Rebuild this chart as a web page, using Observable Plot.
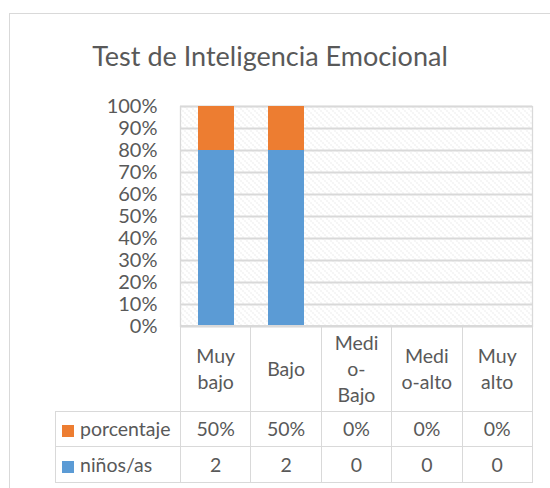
<!DOCTYPE html>
<html>
<head>
<meta charset="utf-8">
<script src="https://cdn.jsdelivr.net/npm/d3@7"></script>
<script src="https://cdn.jsdelivr.net/npm/@observablehq/plot@0.6"></script>
<style>
  html, body { margin: 0; padding: 0; background: #fff; }
  body { width: 550px; height: 488px; position: relative; overflow: hidden; font-family: Lato, "Open Sans", sans-serif; color: #595959; }
  #frame { position: absolute; left: 9px; top: 13px; width: 600px; height: 520px; border: 1.3px solid #d9d9d9; box-sizing: border-box; }
  #title { position: absolute; left: 0; width: 540px; top: 37px; text-align: center; font-size: 27px; line-height: 38px; color: #595959; }
  #chart { position: absolute; left: 0; top: 0; }
  #table { position: absolute; left: 55px; top: 325px; border-collapse: collapse; table-layout: fixed; font-size: 19.5px; color: #595959; }
  #table td { border: 1.5px solid #d9d9d9; text-align: center; vertical-align: middle; padding: 0; line-height: 26px; }
  #table td.corner { border-left: none; border-top: none; }
  #table td.leg { text-align: left; padding-left: 6px; white-space: nowrap; }
  .sw { display: inline-block; width: 12px; height: 12px; margin-right: 6px; vertical-align: -1px; }
</style>
</head>
<body>
<div id="frame"></div>
<div id="title">Test de Inteligencia Emocional</div>
<div id="chart"></div>
<table id="table"></table>
<script>
// ---- data ----
const categories = ["Muy bajo", "Bajo", "Medio-Bajo", "Medio-alto", "Muy alto"];
const categoryLabels = ["Muy\nbajo", "Bajo", "Medi\no-\nBajo", "Medi\no-alto", "Muy\nalto"];
const seriesNames = ["niños/as", "porcentaje"];
const seriesColors = ["#5b9bd5", "#ed7d31"];
const ninos = [2, 2, 0, 0, 0];
const porcentaje = [0.5, 0.5, 0, 0, 0];
const porcentajeLabels = ["50%", "50%", "0%", "0%", "0%"];
const ninosLabels = ["2", "2", "0", "0", "0"];
const yTicks = [0, 0.1, 0.2, 0.3, 0.4, 0.5, 0.6, 0.7, 0.8, 0.9, 1];

// long table for Plot
const rows = [];
categories.forEach((c, i) => {
  rows.push({cat: c, series: seriesNames[0], value: ninos[i]});
  rows.push({cat: c, series: seriesNames[1], value: porcentaje[i]});
});

const plot = Plot.plot({
  width: 550,
  height: 488,
  marginLeft: 180,
  marginRight: 18,
  marginTop: 106,
  marginBottom: 162,
  x: {domain: categories, paddingInner: 0.49, paddingOuter: 0.245, axis: null},
  y: {domain: [0, 1], axis: null},
  color: {domain: seriesNames, range: seriesColors},
  style: {fontFamily: "Lato, 'Open Sans', sans-serif", fontSize: "20px", color: "#595959", background: "transparent"},
  marks: [
    Plot.frame({fill: "url(#hatch)", stroke: "#d9d9d9", strokeWidth: 1.3}),
    Plot.gridY(yTicks, {stroke: "#d9d9d9", strokeOpacity: 1, strokeWidth: 2}),
    Plot.barY(rows.filter(d => d.value > 0), Plot.stackY({offset: "normalize", x: "cat", y: "value", fill: "series"})),
    Plot.axisY(yTicks, {tickSize: 0, tickPadding: 23, tickFormat: d3.format(".0%"), label: null, fill: "#595959", fontSize: 20})
  ]
});

// hatch pattern for plot area
const ns = "http://www.w3.org/2000/svg";
const defs = document.createElementNS(ns, "defs");
defs.innerHTML = `<pattern id="hatch" patternUnits="userSpaceOnUse" width="6" height="6">
  <rect width="6" height="6" fill="#ffffff"/>
  <path d="M0,0L6,6M-3,3L0,6M3,-3L9,3" stroke="#d9d9d9" stroke-width="1" stroke-dasharray="1.4 1.4"/>
</pattern>`;
plot.insertBefore(defs, plot.firstChild);
document.getElementById("chart").appendChild(plot);

// data table aligned with the x band scale
const xs = plot.scale("x");
const step = (xs.range[1] - xs.range[0]) / categories.length;
const firstColWidth = xs.range[0] - 55;
const table = document.getElementById("table");
const colgroup = document.createElement("colgroup");
colgroup.innerHTML = `<col style="width:${firstColWidth}px">` + categories.map(() => `<col style="width:${step}px">`).join("");
table.appendChild(colgroup);

const tr0 = document.createElement("tr");
tr0.style.height = "86px";
tr0.innerHTML = `<td class="corner"></td>` + categoryLabels.map(l => `<td>${l.split("\n").join("<br>")}</td>`).join("");
table.appendChild(tr0);

const tableRows = [
  {name: seriesNames[1], color: seriesColors[1], labels: porcentajeLabels, h: 35},
  {name: seriesNames[0], color: seriesColors[0], labels: ninosLabels, h: 36}
];
for (const r of tableRows) {
  const tr = document.createElement("tr");
  tr.style.height = r.h + "px";
  tr.innerHTML = `<td class="leg"><span class="sw" style="background:${r.color}"></span>${r.name}</td>` +
    r.labels.map(l => `<td>${l}</td>`).join("");
  table.appendChild(tr);
}
</script>
</body>
</html>
